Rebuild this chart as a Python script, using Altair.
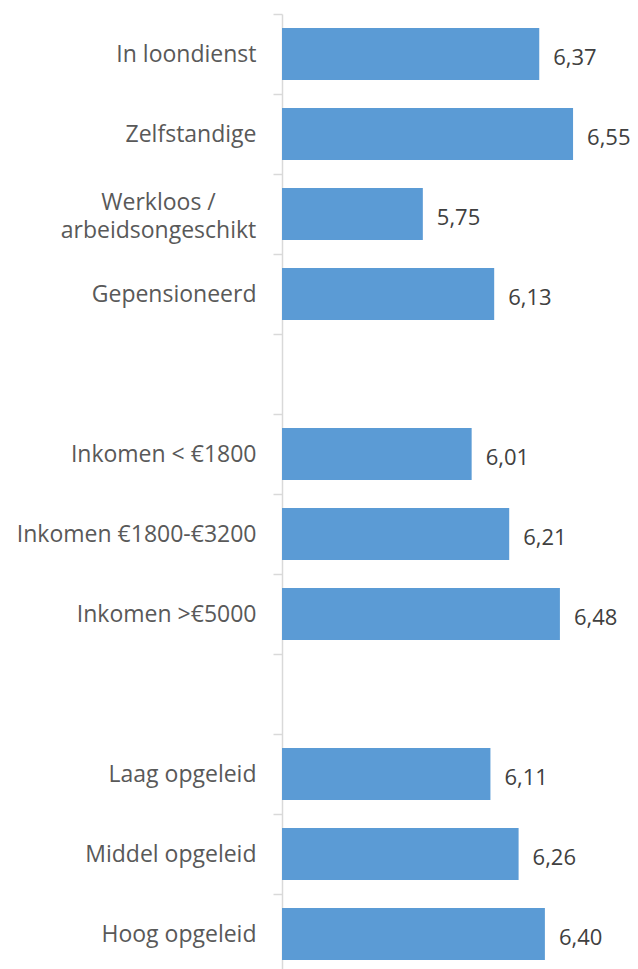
import altair as alt
import pandas as pd

categories = ["In loondienst", "Zelfstandige", "Werkloos / arbeidsongeschikt", "Gepensioneerd", " ",
              "Inkomen < €1800", "Inkomen €1800-€3200", "Inkomen >€5000", "  ",
              "Laag opgeleid", "Middel opgeleid", "Hoog opgeleid"]
bar_categories = ["In loondienst", "Zelfstandige", "Werkloos / arbeidsongeschikt", "Gepensioneerd",
                  "Inkomen < €1800", "Inkomen €1800-€3200", "Inkomen >€5000",
                  "Laag opgeleid", "Middel opgeleid", "Hoog opgeleid"]
values = [6.37, 6.55, 5.75, 6.13, 6.01, 6.21, 6.48, 6.11, 6.26, 6.40]
axis_min = 5.0

df = pd.DataFrame({
    "cat": bar_categories,
    "value": values,
    "label": [f"{v:.2f}".replace(".", ",") for v in values],
})

FONT = "Open Sans"
TWO_LINE = "Werkloos / arbeidsongeschikt"
is_two = f"datum.value == '{TWO_LINE}'"

y = alt.Y("cat:N", sort=categories,
          scale=alt.Scale(domain=categories, paddingInner=0, paddingOuter=0),
          axis=alt.Axis(title=None, tickBand="extent", domainColor="#d9d9d9", domainWidth=1.5,
                        tickColor="#d9d9d9", tickWidth=1.5, tickSize=9,
                        labelPadding={"condition": {"test": is_two, "value": 115}, "value": 17},
                        labelAlign={"condition": {"test": is_two, "value": "center"}, "value": "right"},
                        labelFont=FONT, labelFontSize=23, labelColor="#595959",
                        labelLineHeight=28, labelLimit=400,
                        labelOffset={"condition": {"test": is_two, "value": -12}, "value": 0},
                        labelExpr=f"{is_two} ? ['Werkloos /', 'arbeidsongeschikt'] : datum.label"))
x = alt.X("value:Q", scale=alt.Scale(domain=[axis_min, 6.8], nice=False, zero=False), axis=None)

bars = alt.Chart(df).mark_bar(color="#5b9bd5", height={"band": 0.65}).encode(
    x=x, x2=alt.datum(axis_min), y=y)
text = alt.Chart(df).mark_text(align="left", baseline="middle", dx=14, dy=4, font=FONT,
                               fontSize=22, color="#404040").encode(x=x, y=y, text="label:N")

chart = (bars + text).properties(
    width=338, height=960,
    autosize=alt.AutoSizeParams(type="none"),
    padding={"left": 274, "top": 6, "right": 10, "bottom": 0},
).configure_view(stroke=None)

chart.save("out.html", embed_options={"renderer": "svg", "actions": False})
